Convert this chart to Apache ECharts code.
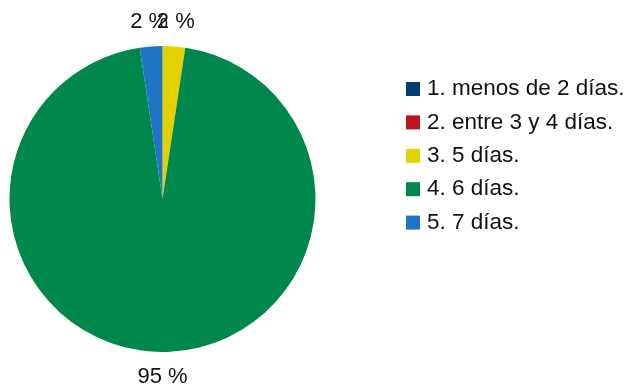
<!DOCTYPE html>
<html>
<head>
<meta charset="utf-8">
<script src="https://cdn.jsdelivr.net/npm/echarts@6/dist/echarts.min.js"></script>
<style>
  html, body { margin: 0; padding: 0; background: #ffffff; }
  #chart { width: 629px; height: 386px; }
</style>
</head>
<body>
<div id="chart"></div>
<script>
// Días por semana: categorías, número de respuestas y colores
const categories = ['1. menos de 2 días.', '2. entre 3 y 4 días.', '3. 5 días.', '4. 6 días.', '5. 7 días.'];
const values = [0, 0, 1, 40, 1];
const colors = ['#003d73', '#c0141c', '#e3d200', '#00874b', '#1f75c3'];

const total = values.reduce((a, b) => a + b, 0);
const CX = 162.5, CY = 199, R = 153, LABEL_R = 178;

const data = categories.map((name, i) => ({
  name: name,
  value: values[i],
  itemStyle: { color: colors[i] },
  label: { show: values[i] > 0 }
}));

const chart = echarts.init(document.getElementById('chart'), null, { renderer: 'canvas' });
chart.setOption({
  animation: false,
  textStyle: { fontFamily: 'Liberation Sans, Arial, sans-serif' },
  legend: {
    orient: 'vertical',
    left: 401,
    top: 72.5,
    padding: 5,
    icon: 'rect',
    itemWidth: 14,
    itemHeight: 14,
    itemGap: 10.4,
    selectedMode: false,
    data: categories,
    textStyle: {
      fontFamily: 'Liberation Sans, Arial, sans-serif',
      fontSize: 22.5,
      lineHeight: 22,
      color: '#111111',
      padding: [0, 0, 0, 2]
    }
  },
  series: [{
    type: 'pie',
    center: [CX, CY],
    radius: R,
    startAngle: 90,
    clockwise: true,
    avoidLabelOverlap: false,
    itemStyle: { borderWidth: 0 },
    emphasis: { disabled: true },
    label: {
      position: 'outside',
      fontFamily: 'Liberation Sans, Arial, sans-serif',
      fontSize: 22,
      color: '#111111',
      formatter: p => Math.round(p.value / total * 100) + ' %'
    },
    labelLine: { show: false },
    labelLayout: function (params) {
      const i = params.dataIndex;
      const before = values.slice(0, i).reduce((a, b) => a + b, 0);
      const mid = (before + values[i] / 2) / total * 2 * Math.PI;
      return {
        x: CX + LABEL_R * Math.sin(mid),
        y: CY - LABEL_R * Math.cos(mid),
        align: 'center',
        verticalAlign: 'middle'
      };
    },
    data: data
  }]
});
</script>
</body>
</html>
